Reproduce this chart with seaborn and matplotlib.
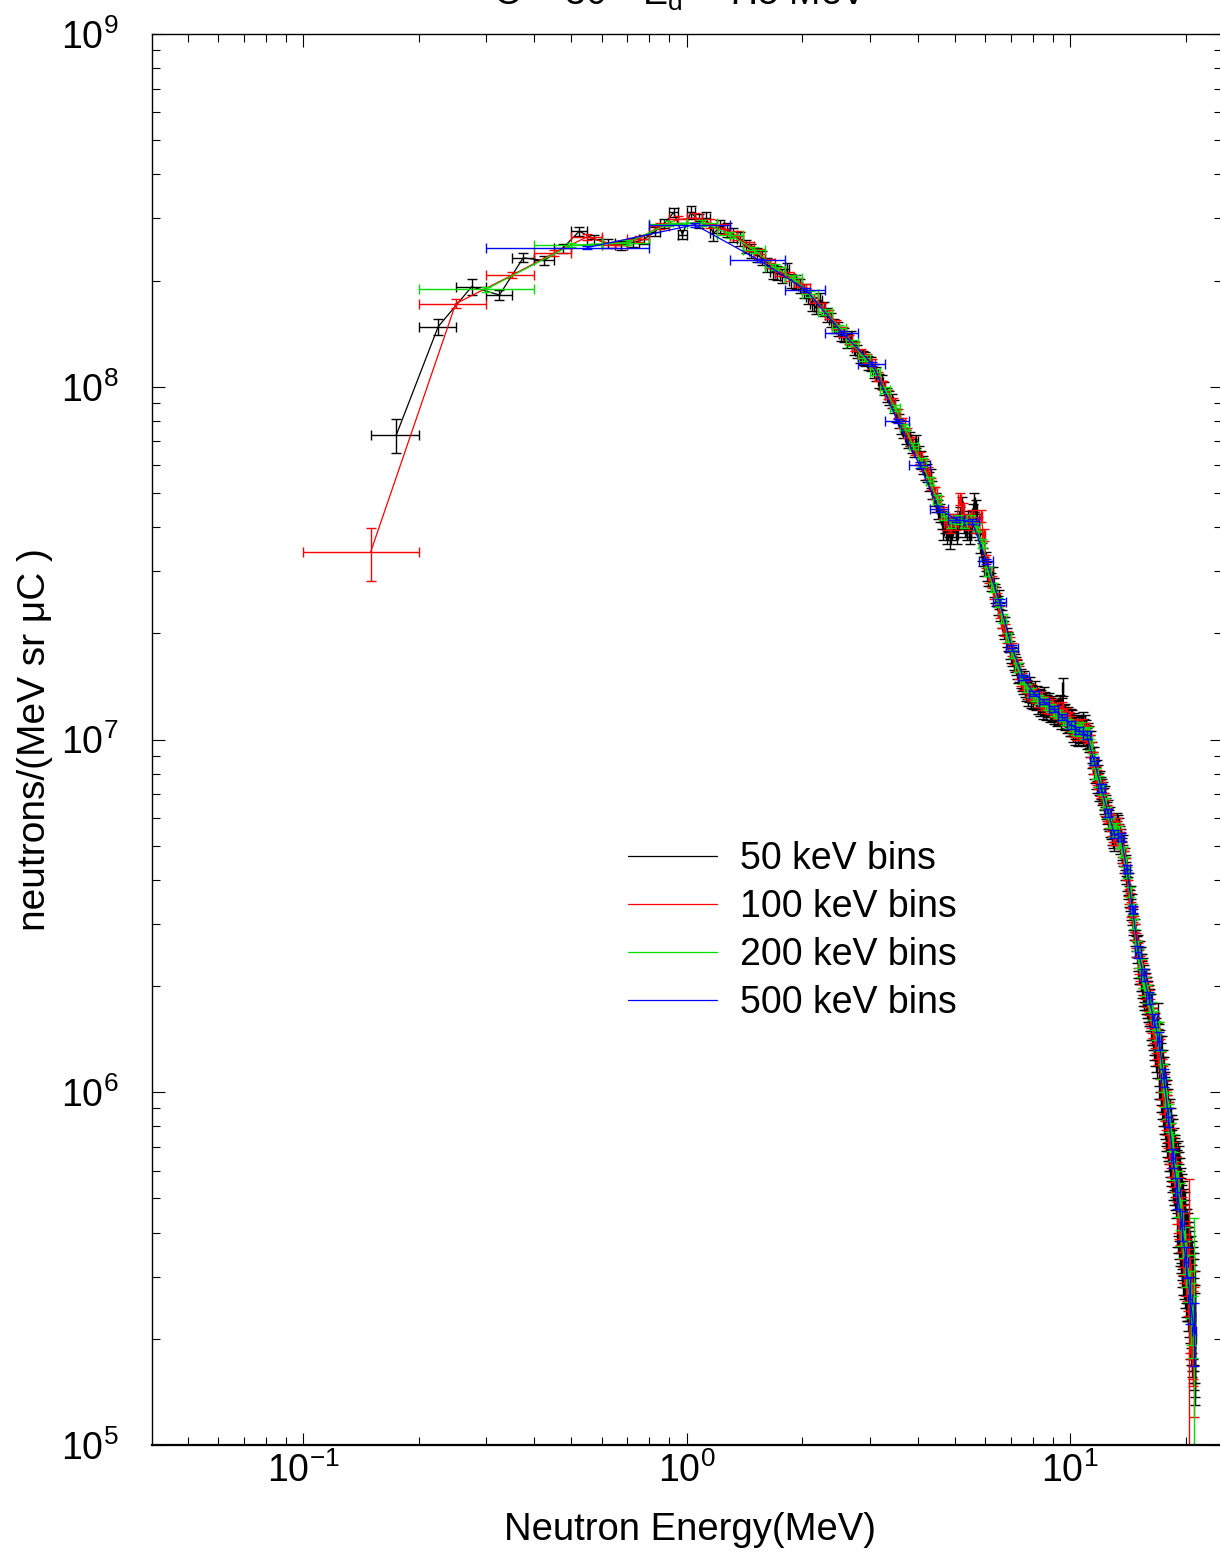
import numpy as np
import pandas as pd
import seaborn as sns
import matplotlib.pyplot as plt
from matplotlib.lines import Line2D

# spectra in units of 1e6 neutrons/(MeV sr uC), one value per energy bin
labels = ["50 keV bins", "100 keV bins", "200 keV bins", "500 keV bins"]
colors = ["#000000", "#ff0000", "#00e000", "#0000ff"]
bin_width = [0.05, 0.1, 0.2, 0.5]    # MeV
bin_start = [0.15, 0.1, 0.2, 0.3]    # lower edge of the first bin, MeV

yield_50 = [
    73, 148, 192, 182, 232, 228, 247, 276, 262, 255, 252, 256, 262, 275, 290, 312, 270, 312, 296, 300,
    272, 285, 278, 270, 262, 250, 243, 236, 232, 222, 212, 210, 206, 215, 200, 198, 193, 187, 180, 172,
    168, 176, 166, 160, 155, 149, 146, 141, 140, 135, 138, 129, 126, 122, 121, 120, 117, 116, 111, 109,
    104, 103, 99, 95, 93, 91, 88, 83, 80, 77, 75, 72, 70, 71, 68, 66, 70, 64, 62, 60,
    58, 57, 54, 55, 51, 49, 47, 45, 44, 42, 39, 41, 38, 40, 37, 39, 41, 40, 38, 42,
    43, 46, 41, 40, 39, 42, 38, 40, 44, 47, 45, 41, 39, 36, 34, 33, 31, 32, 30, 29,
    29, 28, 29, 27, 26, 25.5, 24, 25, 23, 22, 21, 20.5, 21, 19.5, 19, 18.8, 18, 17.5, 17.2, 16.8,
    16.5, 16.2, 15.8, 15.4, 15.5, 14.9, 14.6, 14.3, 14.8, 14.0, 13.7, 13.9, 13.2, 13.6, 14.2, 13.1, 13.5, 13.0, 13.8, 12.9,
    13.4, 12.6, 13.1, 12.4, 13.0, 12.7, 12.2, 13.3, 12.5, 12.9, 12.1, 12.6, 12.3, 12.8, 11.9, 12.4, 12.0, 12.5, 11.8, 12.2,
    12.1, 11.6, 12.3, 11.7, 11.9, 12.6, 11.4, 12.4, 14.1, 11.8, 11.3, 11.9, 11.5, 11.1, 11.7, 11.2, 10.9, 11.4, 11.0, 11.3,
    10.6, 11.1, 10.8, 10.4, 10.9, 10.7, 10.3, 10.8, 11.0, 10.5, 10.9, 10.6, 11.2, 10.4, 10.7, 11.0, 10.3, 10.6, 10.1, 10.4,
    10.2, 9.9, 9.6, 9.9, 9.2, 8.9, 8.6, 8.9, 8.3, 8.1, 7.8, 8.2, 7.6, 7.9, 7.5, 7.2, 7.6, 7.3, 7.0, 7.2,
    7.1, 6.8, 6.6, 6.9, 6.4, 6.5, 6.2, 6.0, 6.3, 5.9, 5.7, 6.0, 5.6, 5.4, 5.7, 5.3, 5.5, 5.2, 5.4, 5.5,
    5.6, 5.8, 5.5, 5.7, 5.4, 5.6, 5.3, 5.1, 5.2, 4.9, 4.8, 5.0, 4.7, 4.5, 4.6, 4.3, 4.4, 4.2, 4.0, 3.9,
    3.8, 3.9, 3.6, 3.5, 3.6, 3.3, 3.4, 3.2, 3.0, 3.1, 2.9, 2.8, 2.9, 2.6, 2.7, 2.5, 2.6, 2.4, 2.5, 2.3,
    2.4, 2.3, 2.2, 2.3, 2.1, 2.2, 2.0, 2.15, 2.05, 1.95, 2.0, 1.9, 1.95, 1.85, 1.9, 1.8, 1.85, 1.75, 1.8, 1.7,
    1.75, 1.6, 1.7, 1.55, 1.6, 1.5, 1.55, 1.45, 1.4, 1.5, 1.35, 1.45, 1.3, 1.25, 1.4, 1.6, 1.35, 1.3, 1.2, 1.25,
    1.2, 1.15, 1.1, 1.2, 1.05, 1.1, 1.0, 1.05, 0.95, 1.0, 0.92, 0.95, 0.88, 0.85, 0.9, 0.82, 0.8, 0.85, 0.78, 0.75,
    0.8, 0.72, 0.75, 0.7, 0.68, 0.72, 0.65, 0.7, 0.62, 0.66, 0.6, 0.63, 0.58, 0.62, 0.55, 0.6, 0.57, 0.52, 0.56, 0.5,
    0.54, 0.48, 0.52, 0.46, 0.5, 0.44, 0.47, 0.42, 0.45, 0.4, 0.43, 0.38, 0.41, 0.37, 0.4, 0.35, 0.38, 0.33, 0.36, 0.32,
    0.36, 0.32, 0.35, 0.3, 0.33, 0.29, 0.32, 0.27, 0.3, 0.26, 0.29, 0.25, 0.28, 0.24, 0.27, 0.23, 0.26, 0.22, 0.25, 0.21,
    0.23, 0.2,
]

yield_100 = [
    34, 172, 207, 239, 266, 252, 262, 285, 298, 301,
    290, 280, 268, 250, 238, 224, 212, 205, 198, 190,
    178, 168, 160, 150, 143, 136, 130, 124, 120, 116,
    107, 101, 95, 90, 84, 79, 74, 70, 66, 63,
    60, 57, 53, 50, 47, 44, 41, 40, 42, 41,
    48, 45, 42, 41, 43, 40, 41, 43, 38, 32,
    29, 28, 26, 25, 23, 21.5, 20.5, 19.5, 18.8, 18.0,
    17.0, 16.3, 15.5, 14.8, 14.4, 14.1, 13.6, 13.8, 13.4, 13.5,
    13.2, 12.9, 13.1, 12.6, 12.8, 12.4, 12.7, 12.3, 12.5, 12.1,
    12.2, 11.9, 12.0, 11.7, 12.3, 11.6, 11.8, 11.4, 11.5, 11.1,
    10.9, 10.7, 10.8, 10.5, 10.7, 10.6, 10.9, 10.5, 10.6, 10.4,
    10.3, 9.8, 9.4, 8.8, 8.4, 8.0, 7.8, 7.6, 7.3, 7.2,
    6.9, 6.7, 6.4, 6.2, 6.1, 5.9, 5.8, 5.6, 5.4, 5.3,
    5.6, 5.7, 5.5, 5.3, 5.2, 4.9, 4.7, 4.6, 4.4, 4.2,
    3.8, 3.6, 3.5, 3.3, 3.2, 3.0, 2.85, 2.7, 2.55, 2.45,
    2.35, 2.25, 2.2, 2.15, 2.05, 2.0, 1.95, 1.9, 1.85, 1.8,
    1.7, 1.65, 1.6, 1.55, 1.5, 1.45, 1.4, 1.35, 1.3, 1.4,
    1.25, 1.15, 1.1, 1.05, 1.0, 0.95, 0.9, 0.87, 0.83, 0.8,
    0.75, 0.72, 0.7, 0.66, 0.64, 0.62, 0.6, 0.58, 0.56, 0.53,
    0.5, 0.48, 0.46, 0.44, 0.42, 0.4, 0.38, 0.36, 0.35, 0.33,
    0.32, 0.3, 0.29, 0.27, 0.26, 0.25, 0.24, 0.22, 0.21, 0.2,
]

yield_200 = [
    189, 252, 256, 290, 292, 270, 244, 218, 203, 183,
    163, 147, 133, 121, 110, 98, 87, 77, 68, 61,
    54, 48, 43, 41, 42, 41, 42, 40, 36, 30,
    27, 24.5, 22, 19.5, 17.5, 16.0, 14.8, 14.0, 13.6, 13.2,
    13.0, 12.8, 12.5, 12.3, 12.0, 11.8, 11.6, 11.3, 11.1, 10.9,
    10.7, 10.6, 10.8, 10.4, 10.5, 9.7, 8.8, 8.0, 7.6, 7.2,
    6.6, 6.2, 5.8, 5.5, 5.6, 5.5, 5.1, 4.8, 4.5, 4.2,
    3.7, 3.3, 3.0, 2.6, 2.4, 2.25, 2.1, 2.0, 1.9, 1.8,
    1.7, 1.6, 1.5, 1.4, 1.45, 1.2, 1.1, 1.0, 0.92, 0.85,
    0.75, 0.7, 0.62, 0.57, 0.52, 0.48, 0.43, 0.4, 0.36, 0.33,
    0.3, 0.27, 0.24, 0.22, 0.2,
]

yield_500 = [
    248, 288, 228, 188, 142, 116, 80, 60, 45, 42,
    41.5, 32, 24.5, 18.2, 15.0, 13.5, 12.8, 12.2, 11.6, 11.0,
    10.6, 10.3, 8.7, 7.3, 6.2, 5.4, 5.3, 4.3, 3.3, 2.5,
    2.15, 1.85, 1.6, 1.4, 1.1, 0.85, 0.65, 0.52, 0.42, 0.33,
    0.26, 0.21,
]

# relative statistical errors, looked up by energy (upper edges in MeV)
err_edges = [0.2, 0.3, 1.0, 4.0, 10.0, 15.0, 17.0, 19.0, 20.4, 20.5, 21.0, 30.0]
relerr_50 = [0.11, 0.05, 0.03, 0.045, 0.06, 0.07, 0.12, 0.20, 0.30, 0.30, 0.35, 0.35]
relerr_100 = [0.17, 0.03, 0.02, 0.03, 0.04, 0.05, 0.08, 0.13, 0.20, 1.10, 0.30, 0.40]
relerr_200 = [0.10, 0.02, 0.015, 0.02, 0.028, 0.035, 0.06, 0.09, 0.15, 0.15, 0.20, 1.20]
relerr_500 = [0.08, 0.015, 0.01, 0.012, 0.018, 0.025, 0.04, 0.06, 0.10, 0.10, 0.15, 0.20]

yields = [yield_50, yield_100, yield_200, yield_500]
relerrs = [relerr_50, relerr_100, relerr_200, relerr_500]

frames = []
for lab, w, e0, vals, rel in zip(labels, bin_width, bin_start, yields, relerrs):
    vals = np.array(vals) * 1e6
    energy = e0 + w * (np.arange(len(vals)) + 0.5)
    r = np.array(rel)[np.searchsorted(err_edges, energy)]
    frames.append(pd.DataFrame({"E": energy, "N": vals, "dE": w / 2, "dN": r * vals, "bins": lab}))
df = pd.concat(frames, ignore_index=True)

sns.set_style("ticks")
plt.rcParams["font.family"] = ["Liberation Sans", "DejaVu Sans"]
plt.rcParams["mathtext.fontset"] = "custom"
plt.rcParams["mathtext.rm"] = "Liberation Sans"
plt.rcParams["mathtext.it"] = "Liberation Sans:italic"
plt.rcParams["mathtext.default"] = "regular"
plt.rcParams["axes.unicode_minus"] = False
for k in ["text.color", "axes.labelcolor", "xtick.color", "ytick.color", "axes.edgecolor"]:
    plt.rcParams[k] = "black"

fig = plt.figure(figsize=(12.2, 15.53), dpi=100)
ax = fig.add_axes([152 / 1220, 1 - 1445 / 1553, 1070 / 1220, 1411 / 1553])
ax.set_xscale("log")
ax.set_yscale("log")

for lab, c in zip(labels, colors):
    d = df[df["bins"] == lab]
    ax.errorbar(d["E"], d["N"], xerr=d["dE"], yerr=d["dN"], fmt="none", ecolor=c,
                elinewidth=1.0, capsize=3.5, capthick=1.0)
    sns.lineplot(data=d, x="E", y="N", color=c, linewidth=0.9, estimator=None,
                 sort=False, ax=ax, legend=False)

ax.set_xlim(10 ** -1.394, 10 ** 1.396)
ax.set_ylim(1e5, 1e9)

ax.tick_params(which="both", direction="in", top=True, right=True, width=0.8,
               labelsize=27, color="black", labelcolor="black")
ax.tick_params(which="major", length=9, pad=5)
ax.tick_params(which="minor", length=6)
ax.tick_params(axis="y", which="major", pad=24)
for s in ax.spines.values():
    s.set_linewidth(1.0)
    s.set_color("black")
ax.spines["bottom"].set_linewidth(1.6)

ax.set_xlabel("Neutron Energy(MeV)", fontsize=27.5, va="center")
ax.xaxis.set_label_coords((690 - 152) / 1070, -(1530 - 1445) / 1411)
ax.set_ylabel("neutrons/(MeV sr \u03bcC )", fontsize=28, va="center")
ax.yaxis.set_label_coords(-(152 - 35) / 1070, 0.5)

fig.text(680 / 1220, 1 - 5 / 1553, "\u0398 = 30\u00b0  E$_{d}$ = 7.5 MeV", fontsize=27,
         ha="center", va="baseline")

handles = [Line2D([], [], color=c, linewidth=0.9) for c in colors]
ax.legend(handles, labels, loc="upper left", bbox_to_anchor=(628 / 1220, 1 - 841 / 1553),
          bbox_transform=fig.transFigure, frameon=False, fontsize=27, borderpad=0,
          borderaxespad=0, handlelength=2.37, handletextpad=0.61, labelspacing=0.32)

fig.savefig("out.png", dpi=100)
